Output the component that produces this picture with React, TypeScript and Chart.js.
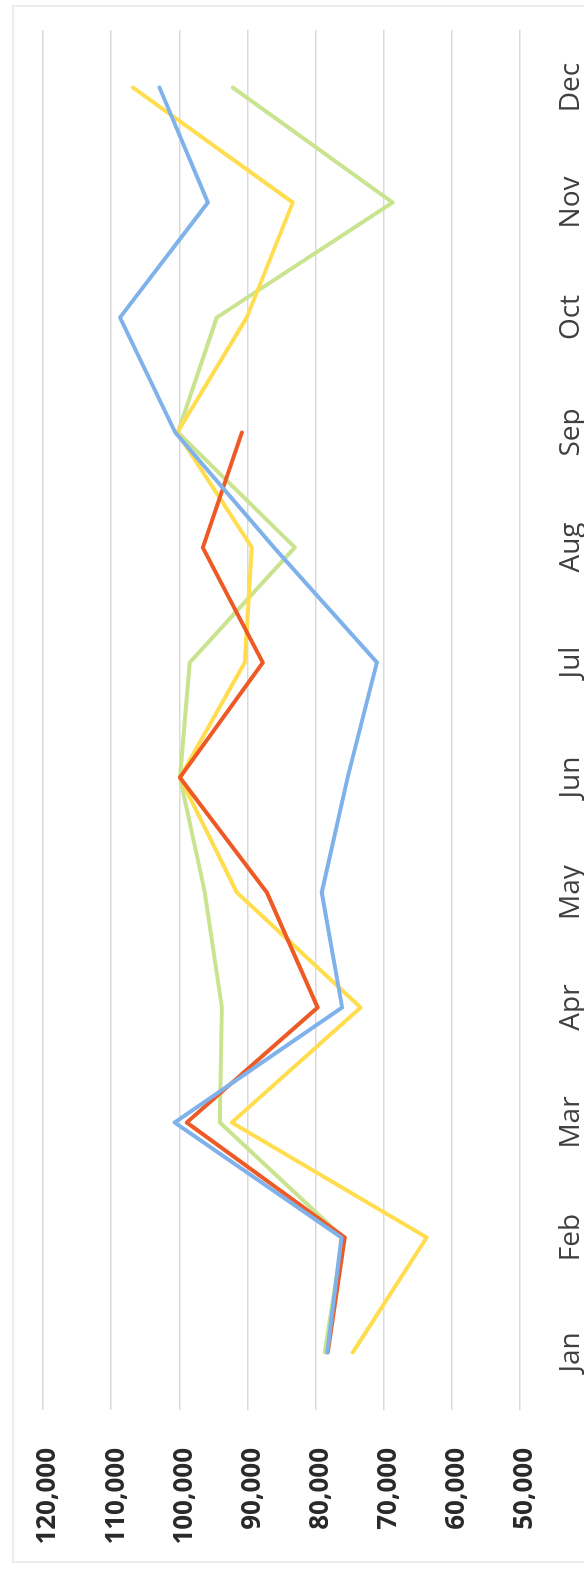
import React, { useEffect, useRef } from "react";
import { Chart, registerables } from "chart.js";

Chart.register(...registerables);

const months = ["Jan", "Feb", "Mar", "Apr", "May", "Jun", "Jul", "Aug", "Sep", "Oct", "Nov", "Dec"];
const blueSeries = [78300, 76200, 100700, 76100, 79100, 75300, 71000, 86100, 100600, 108700, 95800, 102900];
const redSeries = [78200, 75700, 98900, 79700, 87150, 99900, 87750, 96550, 90800];
const yellowSeries = [74550, 63700, 92300, 73400, 91550, 99900, 90400, 89350, 100300, 90100, 83350, 106800];
const greenSeries = [78650, 76000, 94050, 93750, 96250, 99900, 98450, 83050, 100200, 94500, 68700, 92150];
const yMin = 50000;
const yMax = 120000;
const yStep = 10000;

const W = 1569;
const H = 584;

export default function App() {
  const ref = useRef<HTMLCanvasElement | null>(null);

  useEffect(() => {
    if (!ref.current) return;
    const mk = (label: string, data: number[], color: string) => ({
      label,
      data,
      borderColor: color,
      backgroundColor: color,
      borderWidth: 4,
      pointRadius: 0,
      tension: 0,
      fill: false,
      borderJoinStyle: "round" as const,
      borderCapStyle: "round" as const,
    });
    const chart = new Chart(ref.current, {
      type: "line",
      data: {
        labels: months,
        datasets: [
          mk("Series 1", blueSeries, "#7FB1EA"),
          mk("Series 2", redSeries, "#EE5A26"),
          mk("Series 3", yellowSeries, "#FFDD4E"),
          mk("Series 4", greenSeries, "#C9E38E"),
        ],
      },
      options: {
        responsive: false,
        animation: false,
        devicePixelRatio: 1,
        layout: { padding: { top: 43, right: 30, left: 0, bottom: 0 } },
        plugins: { legend: { display: false }, tooltip: { enabled: false } },
        scales: {
          x: {
            offset: true,
            grid: { display: false, drawTicks: false },
            border: { display: false },
            ticks: {
              padding: 34,
              color: "#404040",
              font: { family: "'Open Sans'", size: 28 },
              maxRotation: 0,
              minRotation: 0,
            },
            afterFit: (s: any) => {
              s.height = 64;
              s.paddingLeft = 0;
              s.paddingRight = 0;
            },
          },
          y: {
            min: yMin,
            max: yMax,
            grid: { color: "#dadada", lineWidth: 1.5, drawTicks: false },
            border: { display: false },
            ticks: {
              stepSize: yStep,
              padding: 38,
              labelOffset: 5,
              color: "#2a2a2a",
              font: { family: "'Open Sans'", size: 26, weight: "bold" },
              callback: (v: any) => Number(v).toLocaleString("en-US"),
            },
            afterFit: (s: any) => {
              s.width = 159;
              s.paddingTop = 0;
              s.paddingBottom = 0;
            },
          },
        },
      },
    });
    return () => chart.destroy();
  }, []);

  return (
    <div
      style={{
        position: "fixed",
        left: 0,
        top: 0,
        width: 584,
        height: 1569,
        overflow: "hidden",
        background: "#fff",
      }}
    >
      <div
        style={{
          position: "absolute",
          left: 0,
          top: 0,
          width: W,
          height: H,
          transformOrigin: "0 0",
          transform: `translate(0px, ${W}px) rotate(-90deg)`,
        }}
      >
        <div
          style={{
            position: "absolute",
            left: 6,
            top: 12,
            width: W - 11,
            height: H + 20,
            border: "2px solid #ececec",
            boxSizing: "border-box",
          }}
        />
        <canvas ref={ref} width={W} height={H} style={{ position: "absolute", left: 0, top: 0 }} />
      </div>
    </div>
  );
}
